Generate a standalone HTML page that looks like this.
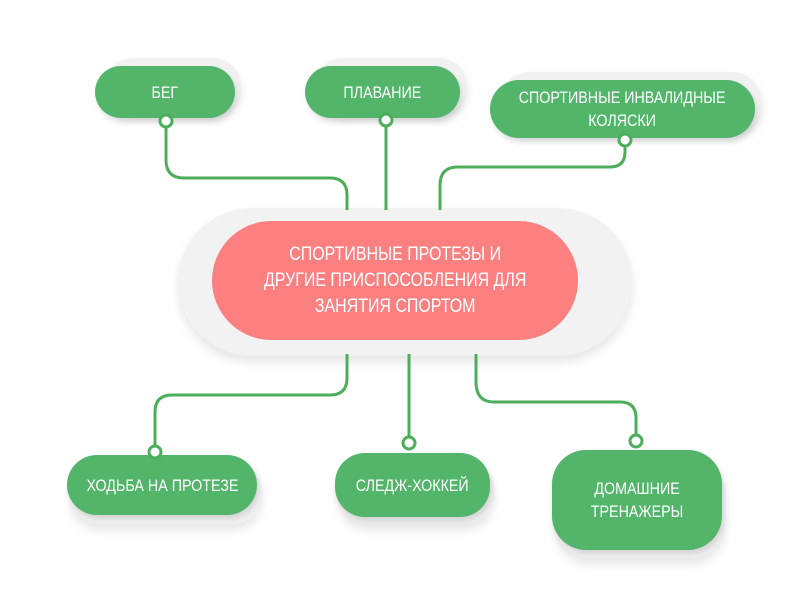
<!DOCTYPE html>
<html><head><meta charset="utf-8"><style>
body{margin:0;width:800px;height:600px;background:#fff;position:relative;overflow:hidden;font-family:"Liberation Sans",sans-serif;}
.sh{position:absolute;background:#f1f1f1;box-shadow:0 6px 10px rgba(0,0,0,0.10);}
.n{position:absolute;background:#52b56a;color:#fff;display:flex;align-items:center;justify-content:center;text-align:center;font-size:17px;line-height:23px;box-shadow:2px 4px 6px rgba(0,0,0,0.12);}
.n span{display:inline-block;transform:scaleX(0.84);white-space:nowrap}
svg{position:absolute;left:0;top:0}
</style></head><body>
<div class="sh" style="left:105px;top:58px;width:136px;height:56px;border-radius:28px"></div>
<div class="sh" style="left:315px;top:58px;width:152px;height:56px;border-radius:28px"></div>
<div class="sh" style="left:500px;top:72px;width:262px;height:60px;border-radius:30px"></div>
<div class="sh" style="left:178px;top:208px;width:454px;height:148px;border-radius:74px;background:#f2f2f2"></div>
<div class="sh" style="left:70px;top:462px;width:192px;height:62px;border-radius:30px"></div>
<div class="sh" style="left:338px;top:460px;width:156px;height:64px;border-radius:30px"></div>
<div class="sh" style="left:555px;top:458px;width:170px;height:100px;border-radius:34px"></div>

<svg width="800" height="600" fill="none" stroke="#4cae5b" stroke-width="3">
<path d="M166 121 V160 Q166 178 184 178 H330 Q347 178 347 195 V210"/>
<path d="M386 120 V210"/>
<path d="M625 140 V152 Q625 167 610 167 H458 Q440 167 440 185 V210"/>
<path d="M347 354 V378 Q347 395 330 395 H172 Q155 395 155 412 V452"/>
<path d="M409 354 V443"/>
<path d="M476 354 V382 Q476 402 494 402 H620 Q636 402 636 418 V441"/>
</svg>

<div class="n" style="left:95px;top:66px;width:140px;height:52px;border-radius:26px"><span>БЕГ</span></div>
<div class="n" style="left:305px;top:66px;width:155px;height:52px;border-radius:26px"><span>ПЛАВАНИЕ</span></div>
<div class="n" style="left:490px;top:80px;width:265px;height:58px;border-radius:29px"><span>СПОРТИВНЫЕ ИНВАЛИДНЫЕ<br>КОЛЯСКИ</span></div>
<div class="n" style="left:212px;top:221px;width:366px;height:119px;border-radius:60px;background:#fd8080;font-size:19px;line-height:26px;box-shadow:none"><span>СПОРТИВНЫЕ ПРОТЕЗЫ И<br>ДРУГИЕ ПРИСПОСОБЛЕНИЯ ДЛЯ<br>ЗАНЯТИЯ СПОРТОМ</span></div>
<div class="n" style="left:67px;top:455px;width:190px;height:60px;border-radius:30px"><span>ХОДЬБА НА ПРОТЕЗЕ</span></div>
<div class="n" style="left:335px;top:453px;width:155px;height:64px;border-radius:30px"><span>СЛЕДЖ-ХОККЕЙ</span></div>
<div class="n" style="left:552px;top:450px;width:170px;height:100px;border-radius:34px"><span>ДОМАШНИЕ<br>ТРЕНАЖЕРЫ</span></div>

<svg width="800" height="600" fill="#fff" stroke="#4cae5b" stroke-width="3">
<circle cx="166" cy="121" r="6"/>
<circle cx="386" cy="120" r="6"/>
<circle cx="625" cy="140" r="6"/>
<circle cx="155" cy="452" r="6"/>
<circle cx="409" cy="443" r="6"/>
<circle cx="636" cy="441" r="6"/>
</svg>
</body></html>
